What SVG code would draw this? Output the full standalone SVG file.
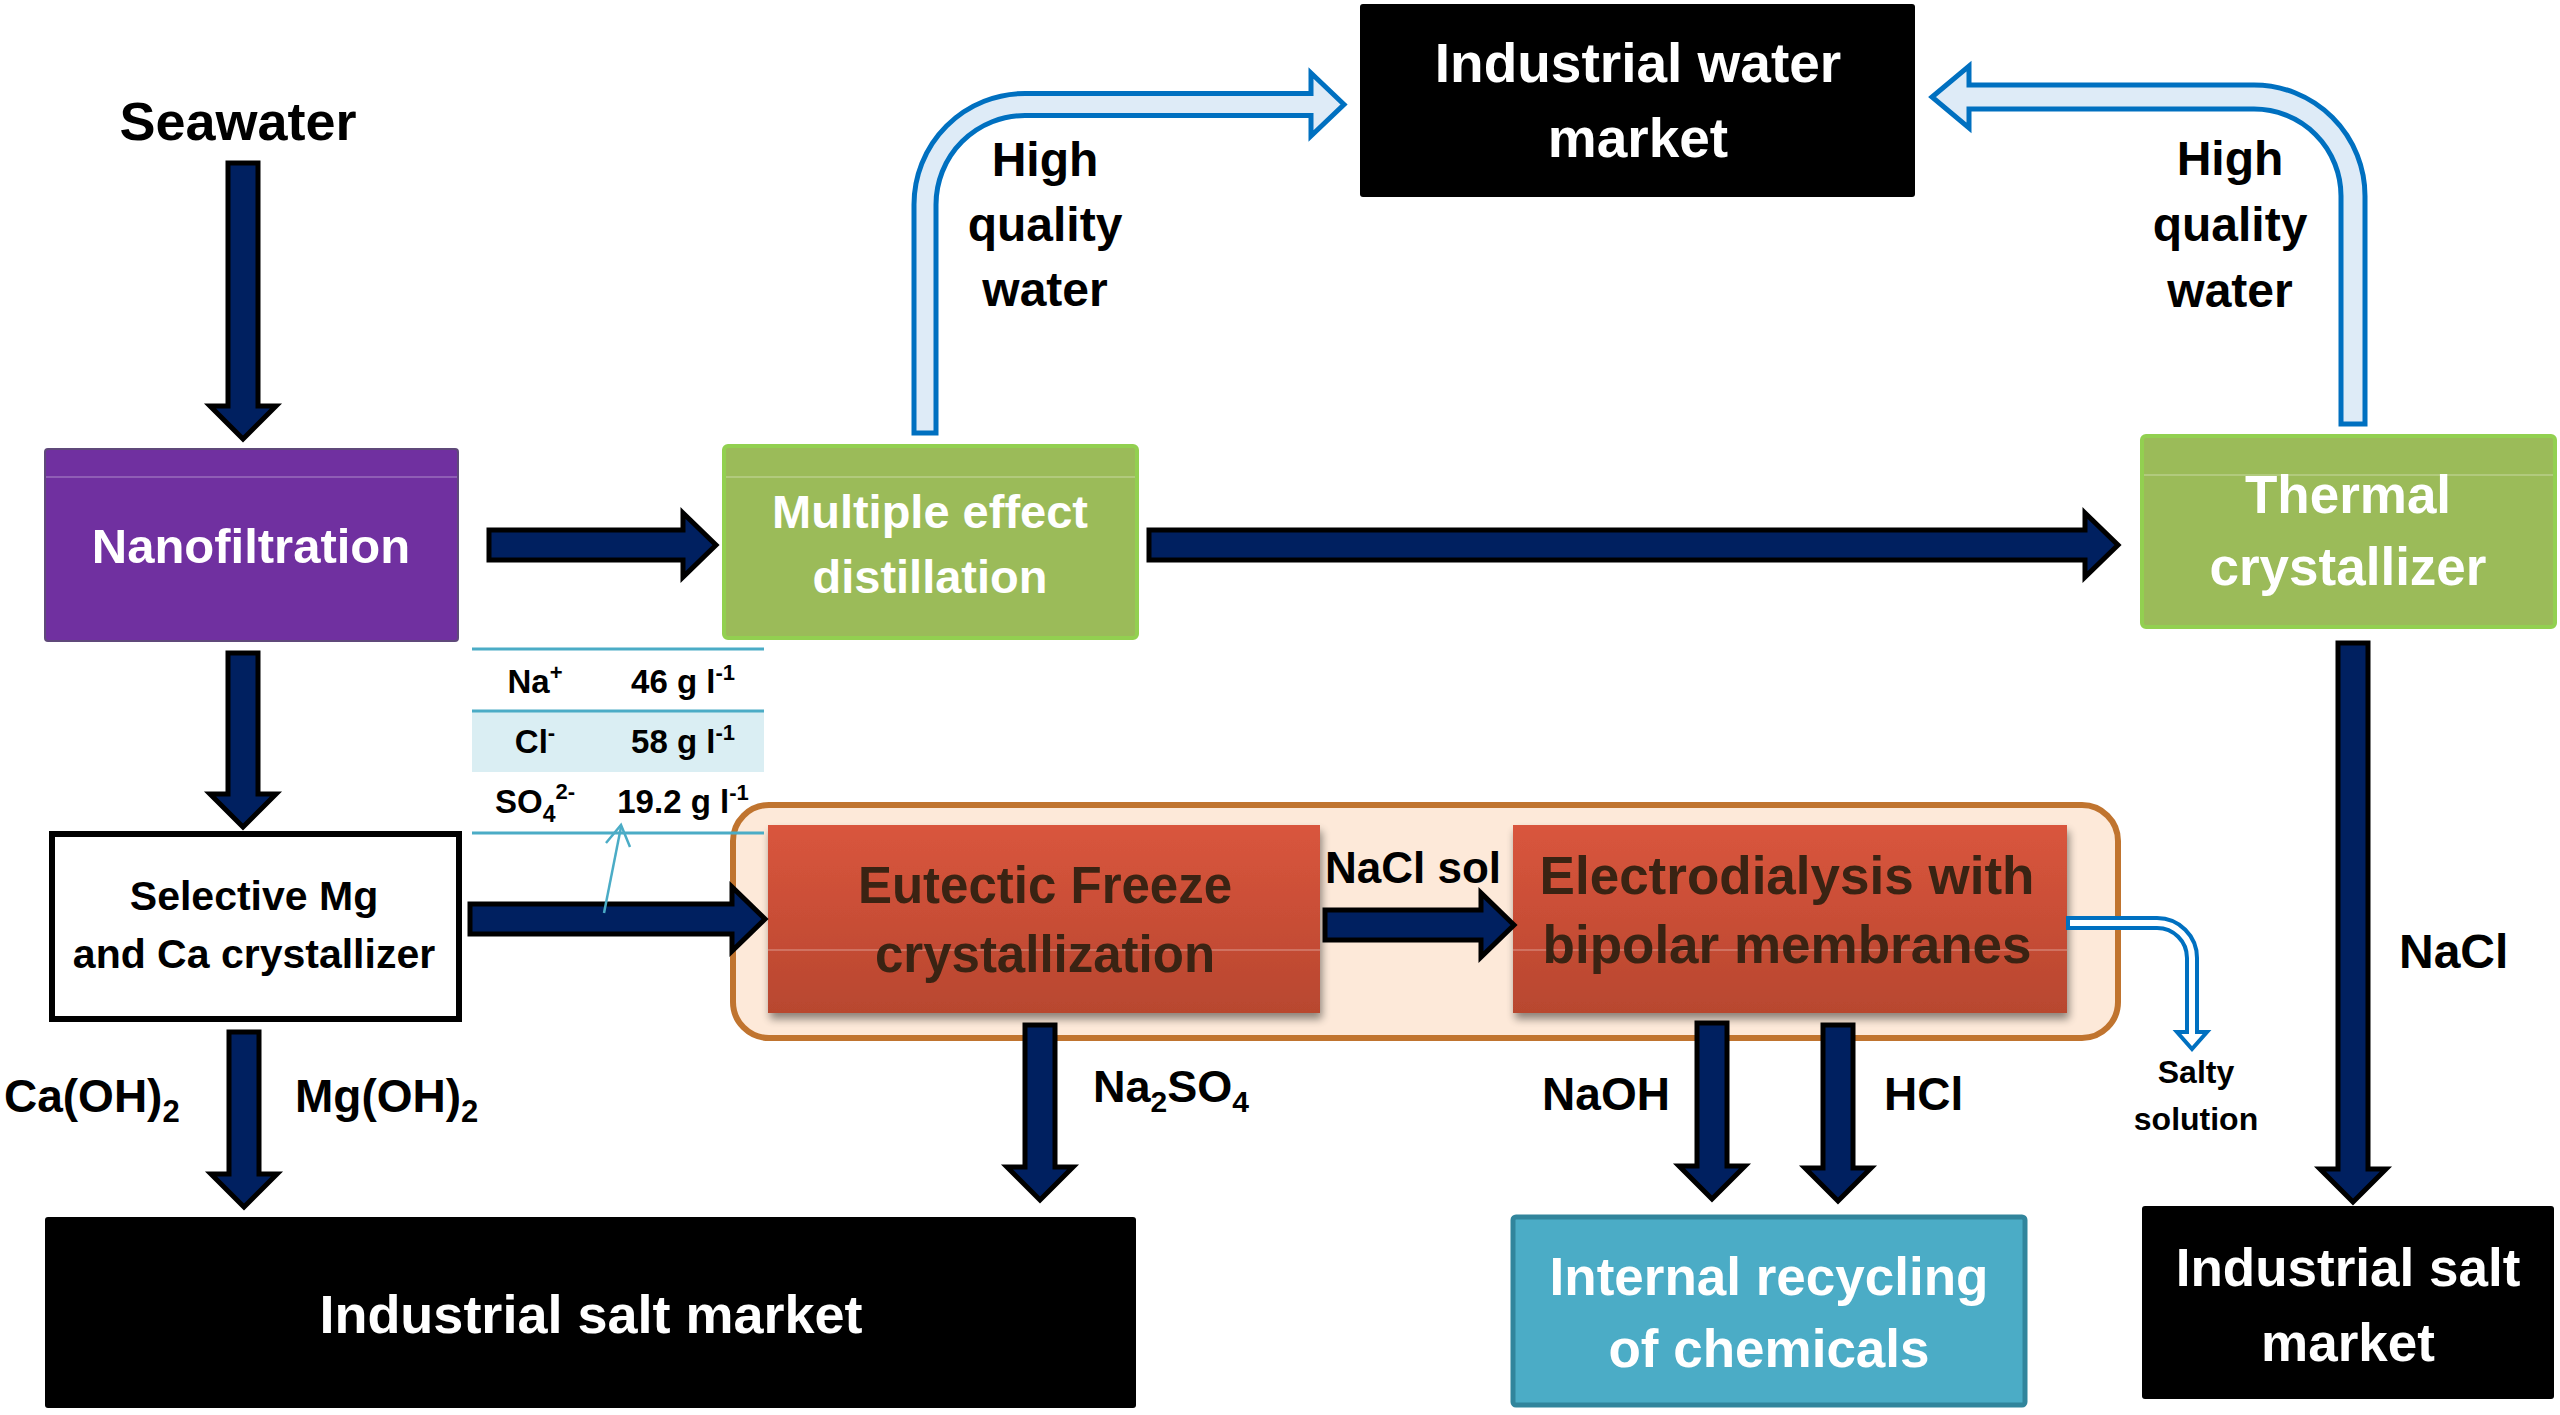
<svg xmlns="http://www.w3.org/2000/svg" width="2560" height="1415" viewBox="0 0 2560 1415">
  <defs>
    <linearGradient id="redGrad" x1="0" y1="0" x2="0" y2="1">
      <stop offset="0" stop-color="#D9553D"/>
      <stop offset="1" stop-color="#B8472F"/>
    </linearGradient>
    <filter id="shadow" x="-10%" y="-10%" width="120%" height="130%">
      <feGaussianBlur in="SourceAlpha" stdDeviation="4"/>
      <feOffset dx="2" dy="6" result="b"/>
      <feComponentTransfer><feFuncA type="linear" slope="0.45"/></feComponentTransfer>
      <feMerge><feMergeNode/><feMergeNode in="SourceGraphic"/></feMerge>
    </filter>
    <style>
      text { font-family: "Liberation Sans", Arial, sans-serif; font-weight: bold; }
      .w { fill: #FFFFFF; text-anchor: middle; }
      .k { fill: #000000; }
      .km { fill: #000000; text-anchor: middle; }
      .br { fill: #3A2313; text-anchor: middle; }
      .arr { fill: #002060; stroke: #000000; stroke-width: 5; stroke-linejoin: miter; }
      .barr { fill: #DEEBF7; stroke: #0070C0; stroke-width: 5; stroke-linejoin: miter; }
      .sarr { fill: #FFFFFF; stroke: #0070C0; stroke-width: 4; stroke-linejoin: miter; }
      .green { fill: #9BBB59; stroke: #92D050; stroke-width: 4; }
      .black { fill: #000000; }
      .gloss { stroke: #FFFFFF; stroke-opacity: 0.22; stroke-width: 2; }
      .tline { stroke: #4BACC6; stroke-width: 3; }
      .tab { font-size: 33px; fill: #000000; text-anchor: middle; }
    </style>
  </defs>
  <rect width="2560" height="1415" fill="#FFFFFF"/>

  <!-- container -->
  <g id="container">
    <rect x="733" y="805" width="1385" height="233" rx="36" ry="36" fill="#FDE9D9" stroke="#C0742F" stroke-width="6"/>
  </g>

  <!-- nodes -->
  <g id="seawater">
    <text class="km" x="238" y="140" font-size="54">Seawater</text>
  </g>

  <g id="nanofiltration">
    <rect x="45" y="449" width="413" height="192" rx="3" fill="#7030A0" stroke="#5F497A" stroke-width="2"/>
    <line class="gloss" x1="46" y1="477" x2="457" y2="477"/>
    <text class="w" x="251" y="563" font-size="49">Nanofiltration</text>
  </g>

  <g id="med">
    <rect class="green" x="724" y="446" width="413" height="192" rx="4"/>
    <line class="gloss" x1="726" y1="477" x2="1135" y2="477"/>
    <text class="w" x="930" y="528" font-size="47">Multiple effect</text>
    <text class="w" x="930" y="593" font-size="47">distillation</text>
  </g>

  <g id="thermal">
    <rect class="green" x="2142" y="436" width="413" height="191" rx="4"/>
    <line class="gloss" x1="2144" y1="475" x2="2553" y2="475"/>
    <text class="w" x="2348" y="513" font-size="53">Thermal</text>
    <text class="w" x="2348" y="585" font-size="53">crystallizer</text>
  </g>

  <g id="water-market">
    <rect class="black" x="1360" y="4" width="555" height="193" rx="3"/>
    <text class="w" x="1638" y="82" font-size="55">Industrial water</text>
    <text class="w" x="1638" y="157" font-size="55">market</text>
  </g>

  <g id="selective">
    <rect x="52" y="834" width="407" height="185" fill="#FFFFFF" stroke="#000000" stroke-width="6"/>
    <text class="km" x="254" y="910" font-size="41">Selective Mg</text>
    <text class="km" x="254" y="968" font-size="41">and Ca crystallizer</text>
  </g>

  <g id="eutectic">
    <rect x="768" y="825" width="552" height="188" fill="url(#redGrad)" filter="url(#shadow)"/>
    <line class="gloss" x1="768" y1="950" x2="1320" y2="950" stroke-opacity="0.12"/>
    <text class="br" x="1045" y="903" font-size="51">Eutectic Freeze</text>
    <text class="br" x="1045" y="972" font-size="51">crystallization</text>
  </g>

  <g id="electrodialysis">
    <rect x="1513" y="825" width="554" height="188" fill="url(#redGrad)" filter="url(#shadow)"/>
    <line class="gloss" x1="1513" y1="950" x2="2067" y2="950" stroke-opacity="0.12"/>
    <text class="br" x="1787" y="894" font-size="53">Electrodialysis with</text>
    <text class="br" x="1787" y="963" font-size="53">bipolar membranes</text>
  </g>

  <g id="salt-market-left">
    <rect class="black" x="45" y="1217" width="1091" height="191" rx="3"/>
    <text class="w" x="591" y="1333" font-size="54">Industrial salt market</text>
  </g>

  <g id="recycling">
    <rect x="1513" y="1217" width="512" height="188" rx="3" fill="#4BACC6" stroke="#31859C" stroke-width="5"/>
    <text class="w" x="1769" y="1295" font-size="53">Internal recycling</text>
    <text class="w" x="1769" y="1367" font-size="53">of chemicals</text>
  </g>

  <g id="salt-market-right">
    <rect class="black" x="2142" y="1206" width="412" height="193" rx="3"/>
    <text class="w" x="2348" y="1286" font-size="53">Industrial salt</text>
    <text class="w" x="2348" y="1361" font-size="53">market</text>
  </g>

  <!-- composition table -->
  <g id="table">
    <rect x="472" y="711" width="292" height="61" fill="#DAEEF3"/>
    <line class="tline" x1="472" y1="649" x2="764" y2="649"/>
    <line class="tline" x1="472" y1="711" x2="764" y2="711"/>
    <line class="tline" x1="472" y1="833" x2="764" y2="833" stroke-width="2.5"/>
    <text class="tab" x="535" y="693">Na<tspan dy="-13" font-size="22">+</tspan></text>
    <text class="tab" x="683" y="693">46 g l<tspan dy="-13" font-size="22">-1</tspan></text>
    <text class="tab" x="535" y="753">Cl<tspan dy="-13" font-size="22">-</tspan></text>
    <text class="tab" x="683" y="753">58 g l<tspan dy="-13" font-size="22">-1</tspan></text>
    <text class="tab" x="535" y="813">SO<tspan dy="9" font-size="23">4</tspan><tspan dy="-23" font-size="22">2-</tspan></text>
    <text class="tab" x="683" y="813">19.2 g l<tspan dy="-13" font-size="22">-1</tspan></text>
  </g>

  <!-- connectors -->
  <g id="connectors">
    <!-- Seawater -> Nanofiltration -->
    <path class="arr" d="M228,163 L258,163 L258,406 L276,406 L243,439 L210,406 L228,406 Z"/>
    <!-- Nanofiltration -> MED -->
    <path class="arr" d="M489,530 L683,530 L683,513 L716,545 L683,577 L683,560 L489,560 Z"/>
    <!-- MED -> Thermal -->
    <path class="arr" d="M1149,530 L2085,530 L2085,513 L2118,545 L2085,577 L2085,560 L1149,560 Z"/>
    <!-- Nanofiltration -> Selective -->
    <path class="arr" d="M228,653 L258,653 L258,794 L276,794 L243,827 L210,794 L228,794 Z"/>
    <!-- Selective -> Eutectic -->
    <path class="arr" d="M470,904 L732,904 L732,887 L765,919 L732,951 L732,934 L470,934 Z"/>
    <!-- Eutectic -> ED -->
    <path class="arr" d="M1325,910 L1481,910 L1481,893 L1514,925 L1481,957 L1481,940 L1325,940 Z"/>
    <!-- Selective -> salt market -->
    <path class="arr" d="M229,1032 L259,1032 L259,1174 L277,1174 L244,1207 L211,1174 L229,1174 Z"/>
    <!-- Eutectic -> salt market -->
    <path class="arr" d="M1025,1025 L1055,1025 L1055,1167 L1073,1167 L1040,1200 L1007,1167 L1025,1167 Z"/>
    <!-- NaOH -->
    <path class="arr" d="M1697,1023 L1727,1023 L1727,1166 L1745,1166 L1712,1199 L1679,1166 L1697,1166 Z"/>
    <!-- HCl -->
    <path class="arr" d="M1823,1025 L1853,1025 L1853,1168 L1871,1168 L1838,1201 L1805,1168 L1823,1168 Z"/>
    <!-- Thermal -> salt market (NaCl) -->
    <path class="arr" d="M2338,643 L2368,643 L2368,1169 L2386,1169 L2353,1202 L2320,1169 L2338,1169 Z"/>

    <!-- MED -> Industrial water market -->
    <path class="barr" d="M914,433 L914,204.5 A111,111 0 0 1 1025,93.5 L1311,93.5 L1311,73 L1344,104.5 L1311,136 L1311,115.5 L1025,115.5 A89,89 0 0 0 936,204.5 L936,433 Z"/>
    <!-- Thermal -> Industrial water market -->
    <path class="barr" d="M2365,424 L2365,196 A111,111 0 0 0 2254,85 L1969,85 L1969,66 L1932,97 L1969,128 L1969,109 L2254,109 A87,87 0 0 1 2341,196 L2341,424 Z"/>
    <!-- ED -> salty solution -->
    <path class="sarr" d="M2068,918 L2157,918 A40,40 0 0 1 2197,958 L2197,1032 L2207,1032 L2192,1049 L2177,1032 L2187,1032 L2187,958 A30,30 0 0 0 2157,928 L2068,928 Z"/>

    <!-- composition pointer -->
    <line x1="604" y1="913" x2="621" y2="827" stroke="#4BACC6" stroke-width="2.5"/>
    <path d="M606,843 L621,825 L630,847" fill="none" stroke="#4BACC6" stroke-width="2.5"/>

    <!-- connector labels -->
    <text class="km" x="1045" y="176" font-size="48">High</text>
    <text class="km" x="1045" y="241" font-size="48">quality</text>
    <text class="km" x="1045" y="306" font-size="48">water</text>
    <text class="km" x="2230" y="175" font-size="48">High</text>
    <text class="km" x="2230" y="241" font-size="48">quality</text>
    <text class="km" x="2230" y="307" font-size="48">water</text>
    <text class="k" x="1325" y="883" font-size="44" fill="#2E1E10">NaCl sol</text>
    <text class="k" x="4" y="1112" font-size="46">Ca(OH)<tspan dy="10" font-size="31">2</tspan></text>
    <text class="k" x="295" y="1112" font-size="46">Mg(OH)<tspan dy="10" font-size="31">2</tspan></text>
    <text class="k" x="1093" y="1102" font-size="45">Na<tspan dy="10" font-size="30">2</tspan><tspan dy="-10">SO</tspan><tspan dy="10" font-size="30">4</tspan></text>
    <text class="km" x="1606" y="1110" font-size="46">NaOH</text>
    <text class="k" x="1884" y="1110" font-size="46">HCl</text>
    <text class="k" x="2399" y="968" font-size="48">NaCl</text>
    <text class="km" x="2196" y="1083" font-size="32">Salty</text>
    <text class="km" x="2196" y="1130" font-size="32">solution</text>
  </g>
</svg>
